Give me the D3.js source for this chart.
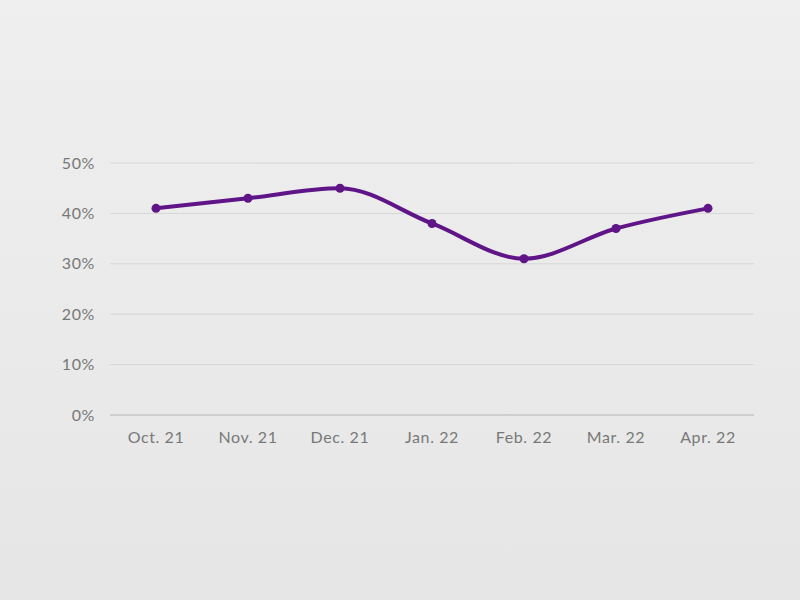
<!DOCTYPE html>
<html><head><meta charset="utf-8">
<script src="https://cdn.jsdelivr.net/npm/d3@7"></script>
<style>html,body{margin:0;padding:0;}svg{display:block;}</style>
</head><body>
<script>
const categories = ["Oct. 21","Nov. 21","Dec. 21","Jan. 22","Feb. 22","Mar. 22","Apr. 22"];
const values = [41, 43, 45, 38, 31, 37, 41];
const yTicks = [0, 10, 20, 30, 40, 50];

const W = 800, H = 600;
const svg = d3.select("body").append("svg").attr("width", W).attr("height", H);
const defs = svg.append("defs");
const g = defs.append("linearGradient").attr("id","bg").attr("x1",0).attr("y1",0).attr("x2",0).attr("y2",1);
g.append("stop").attr("offset","0%").attr("stop-color","#efefef");
g.append("stop").attr("offset","100%").attr("stop-color","#e6e6e6");
svg.append("rect").attr("width",W).attr("height",H).attr("fill","url(#bg)");

const x = d3.scaleBand().domain(categories).range([110, 754]);
const y = d3.scaleLinear().domain([0, 50]).range([415, 163]);
const font = "Lato, 'Open Sans', sans-serif";

// grid
svg.append("g").selectAll("line").data(yTicks.filter(d=>d>0)).join("line")
  .attr("x1",110).attr("x2",754).attr("y1",d=>y(d)).attr("y2",d=>y(d))
  .attr("stroke","#d6d6d6").attr("stroke-width",1);
svg.append("line").attr("x1",110).attr("x2",754).attr("y1",y(0)).attr("y2",y(0))
  .attr("stroke","#c4c4c4").attr("stroke-width",1.5);

// y labels
svg.append("g").selectAll("text").data(yTicks).join("text")
  .attr("x",95).attr("y",d=>y(d)).attr("dy","0.35em").attr("text-anchor","end")
  .attr("font-family",font).attr("font-size",16).attr("letter-spacing","0.6px").attr("fill","#787878")
  .text(d=>d+"%");

// x labels
svg.append("g").selectAll("text").data(categories).join("text")
  .attr("x",d=>x(d)+x.bandwidth()/2).attr("y",437).attr("dy","0.35em").attr("text-anchor","middle")
  .attr("font-family",font).attr("font-size",16).attr("letter-spacing","0.6px").attr("fill","#787878")
  .text(d=>d);

const pts = categories.map((c,i)=>[x(c)+x.bandwidth()/2, y(values[i])]);
const line = d3.line().curve(d3.curveMonotoneX);
const color = "#5f1487";
svg.append("path").attr("d", line(pts)).attr("fill","none").attr("stroke",color)
  .attr("stroke-width",4).attr("stroke-linecap","round");
svg.append("g").selectAll("circle").data(pts).join("circle")
  .attr("cx",d=>d[0]).attr("cy",d=>d[1]).attr("r",4.5).attr("fill",color);
</script>
</body></html>
